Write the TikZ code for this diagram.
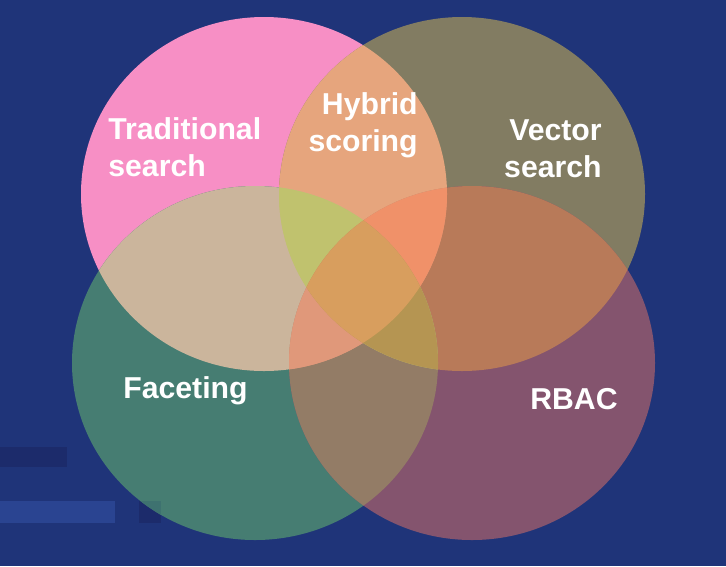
\documentclass[tikz,border=0pt]{standalone}
\usepackage{fontspec}
\setmainfont{Liberation Sans}
\usetikzlibrary{positioning}

\definecolor{bgblue}{HTML}{1F3479}
\definecolor{bardark}{HTML}{1C2B6B}
\definecolor{barlight}{HTML}{2A4491}
\definecolor{sqgreen}{HTML}{3E7270}
% single sets
\definecolor{cP}{HTML}{F78FC5}
\definecolor{cO}{HTML}{827C62}
\definecolor{cG}{HTML}{467D72}
\definecolor{cU}{HTML}{84546E}
% overlaps
\definecolor{cPO}{HTML}{E6A57D}
\definecolor{cPG}{HTML}{CBB59C}
\definecolor{cOU}{HTML}{B87A59}
\definecolor{cGU}{HTML}{937C66}
\definecolor{cPU}{HTML}{E0987A}
\definecolor{cOG}{HTML}{C0C26E}
\definecolor{cPOG}{HTML}{C0C26E}
\definecolor{cPOU}{HTML}{F09169}
\definecolor{cPGU}{HTML}{E0987A}
\definecolor{cOGU}{HTML}{B59552}
\definecolor{cPOGU}{HTML}{D89E5E}

\begin{document}
\begin{tikzpicture}[x=0.02cm, y=0.02cm,
  lbl/.style={text=white, font=\fontsize{17.2}{20.5}\selectfont\bfseries, inner sep=0pt}]

% the four sets
\def\ellP{(264,-194) ellipse (183 and 177)}
\def\ellO{(462,-194) ellipse (183 and 177)}
\def\ellG{(255,-363) ellipse (183 and 177)}
\def\ellU{(472,-363) ellipse (183 and 177)}

% background
\fill[bgblue] (0,0) rectangle (726,-566);
\useasboundingbox (0,0) rectangle (726,-566);

% bars on the left
\fill[bardark] (0,-447) rectangle (67,-467);
\fill[barlight] (0,-501) rectangle (115,-523);
\fill[bardark] (139,-501) rectangle (161,-523);

% single sets
\fill[cP] \ellP;
\fill[cO] \ellO;
\fill[cG] \ellG;
\fill[cU] \ellU;

% square seen through the green set
\begin{scope}
  \clip \ellG;
  \fill[sqgreen] (139,-501) rectangle (161,-523);
\end{scope}

% pairs
\foreach \a/\b/\col in {\ellP/\ellO/cPO, \ellP/\ellG/cPG, \ellO/\ellU/cOU,
                        \ellG/\ellU/cGU, \ellP/\ellU/cPU, \ellO/\ellG/cOG} {
  \begin{scope}
    \clip \a;
    \fill[\col] \b;
  \end{scope}
}

% triples
\foreach \a/\b/\c/\col in {\ellP/\ellO/\ellG/cPOG, \ellP/\ellO/\ellU/cPOU,
                           \ellP/\ellG/\ellU/cPGU, \ellO/\ellG/\ellU/cOGU} {
  \begin{scope}
    \clip \a;
    \clip \b;
    \fill[\col] \c;
  \end{scope}
}

% all four
\begin{scope}
  \clip \ellP;
  \clip \ellO;
  \clip \ellG;
  \fill[cPOGU] \ellU;
\end{scope}

% labels (base = last line)
\node[lbl, anchor=base west, align=left] (trad) at (108,-176) {Traditional\\search};
\node[lbl, anchor=base east, align=right] (hybrid) at (418,-151) {Hybrid\\scoring};
\node[lbl, anchor=base east, align=right] (vector) at (602,-177) {Vector\\search};
\node[lbl, anchor=base west] (facet) at (123,-398) {Faceting};
\node[lbl, anchor=base west] (rbac) at (530,-409) {RBAC};

\end{tikzpicture}
\end{document}
